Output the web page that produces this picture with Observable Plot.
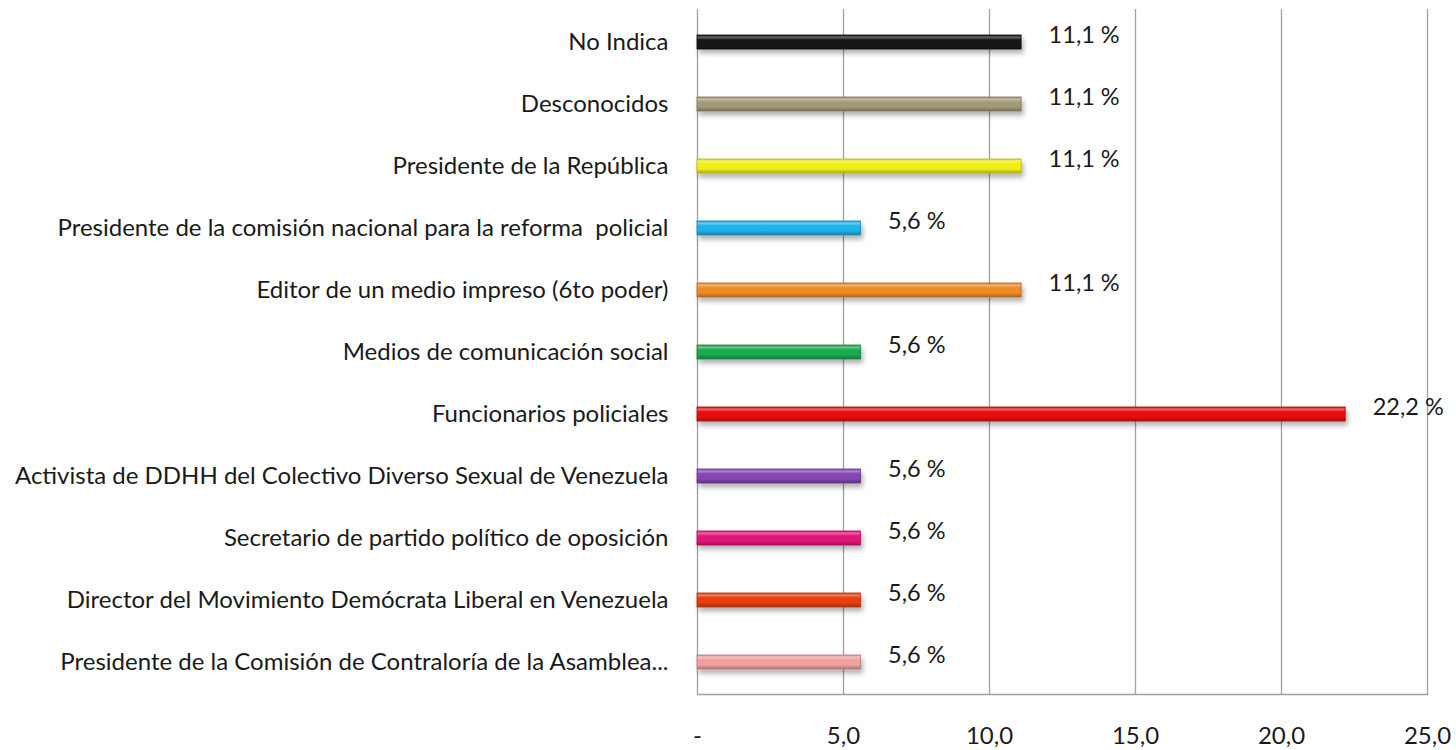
<!DOCTYPE html>
<html><head><meta charset="utf-8">
<script src="https://cdn.jsdelivr.net/npm/d3@7"></script>
<script src="https://cdn.jsdelivr.net/npm/@observablehq/plot@0.6"></script>
<style>body{margin:0;background:#fff}</style>
</head><body><div id="chart"></div>
<script>
const categories = [
  "No Indica",
  "Desconocidos",
  "Presidente de la República",
  "Presidente de la comisión nacional para la reforma  policial",
  "Editor de un medio impreso (6to poder)",
  "Medios de comunicación social",
  "Funcionarios policiales",
  "Activista de DDHH del Colectivo Diverso Sexual de Venezuela",
  "Secretario de partido político de oposición",
  "Director del Movimiento Demócrata Liberal en Venezuela",
  "Presidente de la Comisión de Contraloría de la Asamblea..."
];
const values = [11.1, 11.1, 11.1, 5.6, 11.1, 5.6, 22.2, 5.6, 5.6, 5.6, 5.6];
const colors = ["#161616", "#a39b74", "#f0ef14", "#1cb4e6", "#f08c28", "#1aaa50",
                "#e81010", "#8545b5", "#e0167a", "#e8400c", "#f0a0a0"];
const xTicks = [0, 5, 10, 15, 20, 25];
const xTickLabels = ["-", "5,0", "10,0", "15,0", "20,0", "25,0"];

const data = categories.map((c, i) => ({category: c, value: values[i], color: colors[i]}));
const fmt = v => v.toFixed(1).replace(".", ",") + " %";
const FONT = "Lato, 'Open Sans', sans-serif";

const chart = Plot.plot({
  width: 1456, height: 750,
  marginLeft: 697, marginRight: 29, marginTop: 9, marginBottom: 56,
  style: {fontFamily: FONT, background: "#fff", overflow: "visible"},
  x: {domain: [0, 25]},
  y: {domain: categories, paddingInner: 0.775, paddingOuter: 0.3875},
  marks: [
    Plot.ruleX(xTicks, {stroke: "#a0a0a0", strokeWidth: 1.3}),
    Plot.frame({anchor: "bottom", stroke: "#a0a0a0", strokeWidth: 1.3}),
    Plot.barX(data, {x: "value", y: "category", fill: "color"}),
    Plot.text(data, {x: "value", y: "category", text: d => fmt(d.value), textAnchor: "start",
                     dx: 27, dy: -7, fontSize: 23.5, fill: "#1a1a1a"}),
    Plot.axisY({tickSize: 0, tickPadding: 29, fontSize: 24, fill: "#1a1a1a", label: null}),
    Plot.axisX({ticks: xTicks, tickFormat: d => xTickLabels[xTicks.indexOf(d)], tickSize: 0,
                tickPadding: 32, fontSize: 24, fill: "#1a1a1a", label: null})
  ]
});

// 3D bevel look: gradient fills + drop shadow applied to the library-drawn bars
const svg = d3.select(chart);
const defs = svg.insert("defs", ":first-child");
const f = defs.append("filter").attr("id", "shadow").attr("x", "-5%").attr("y", "-50%").attr("width", "110%").attr("height", "250%");
f.append("feDropShadow").attr("dx", 2).attr("dy", 4).attr("stdDeviation", 2.5).attr("flood-color", "#000").attr("flood-opacity", 0.3);
svg.selectAll('g[aria-label="bar"]').attr("filter", "url(#shadow)");
svg.selectAll('g[aria-label="bar"] rect').each(function(d, i) {
  const el = d3.select(this);
  const c = el.attr("fill");
  const id = "grad" + i;
  const g = defs.append("linearGradient").attr("id", id).attr("x1", 0).attr("y1", 0).attr("x2", 0).attr("y2", 1);
  const base = d3.color(c);
  const light = d3.interpolateRgb(c, "#fff")(0.35);
  g.append("stop").attr("offset", "0%").attr("stop-color", base.darker(0.3));
  g.append("stop").attr("offset", "15%").attr("stop-color", light);
  g.append("stop").attr("offset", "35%").attr("stop-color", c);
  g.append("stop").attr("offset", "70%").attr("stop-color", c);
  g.append("stop").attr("offset", "100%").attr("stop-color", base.darker(0.9));
  el.attr("fill", `url(#${id})`).attr("stroke", base.darker(0.8)).attr("stroke-width", 0.8);
});

document.getElementById("chart").appendChild(chart);
</script>
</body></html>
